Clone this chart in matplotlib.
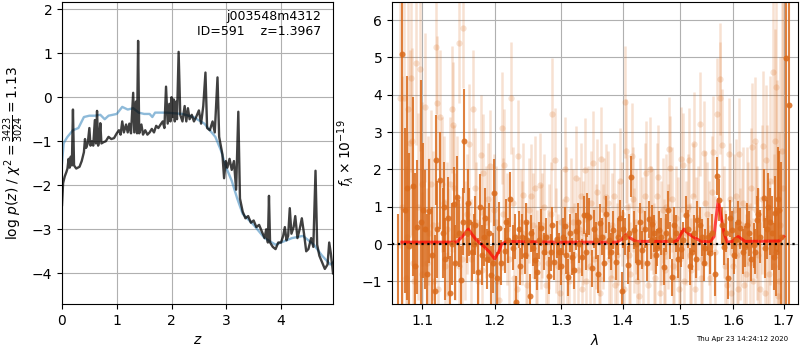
import numpy as np
import matplotlib
matplotlib.use("Agg")
from matplotlib import pyplot as plt
from matplotlib.ticker import NullLocator, FixedLocator, FixedFormatter

# left panel: log p(z)
z_chi = [0.00, 0.02, 0.05, 0.08, 0.10, 0.12, 0.14, 0.16, 0.18, 0.20, 0.22, 0.26, 0.32, 0.36, 0.40, 0.42,
         0.44, 0.47, 0.50, 0.52, 0.55, 0.57, 0.60, 0.62, 0.64, 0.66, 0.68, 0.70, 0.72, 0.76, 0.80, 0.85,
         0.90, 0.95, 1.00, 1.04, 1.07, 1.10, 1.13, 1.17, 1.20, 1.23, 1.26, 1.30, 1.32, 1.35, 1.37, 1.39,
         1.41, 1.45, 1.48, 1.52, 1.56, 1.60, 1.64, 1.68, 1.72, 1.76, 1.80, 1.84, 1.87, 1.90, 1.93, 1.96,
         1.98, 2.00, 2.02, 2.04, 2.06, 2.08, 2.10, 2.13, 2.16, 2.20, 2.24, 2.27, 2.30, 2.33, 2.37, 2.41,
         2.45, 2.50, 2.54, 2.58, 2.62, 2.65, 2.70, 2.75, 2.79, 2.84, 2.87, 2.90, 2.93, 2.96, 2.99, 3.02,
         3.06, 3.10, 3.14, 3.18, 3.22, 3.25, 3.30, 3.35, 3.40, 3.45, 3.50, 3.55, 3.60, 3.65, 3.70, 3.73,
         3.76, 3.78, 3.80, 3.85, 3.90, 3.95, 4.00, 4.04, 4.07, 4.10, 4.13, 4.16, 4.19, 4.23, 4.26, 4.30,
         4.34, 4.38, 4.42, 4.46, 4.50, 4.55, 4.59, 4.63, 4.66, 4.70, 4.75, 4.80, 4.85, 4.88, 4.91, 4.95]
logp_chi = [-2.45, -1.95, -1.80, -1.70, -1.62, -1.40, -1.60, -1.35, -1.55, -0.28, -1.55, -1.62, -1.58, -1.45, -1.25, -0.95,
            -1.15, -1.05, -0.70, -1.10, -1.00, -1.10, -0.52, -1.05, -0.31, -1.10, -0.95, -0.59, -1.05, -1.02, -1.00, -0.90,
            -0.95, -0.93, -0.82, -0.75, -0.85, -0.55, -0.80, -0.62, -0.80, -0.60, -0.82, 0.10, -0.80, -0.10, -0.82, 1.28,
            -0.82, -0.62, -0.85, -0.75, -0.85, -0.80, -0.72, -0.80, -0.65, -0.70, -0.62, -0.55, -0.70, 0.24, -0.60, -0.15,
            -0.55, 0.00, -0.45, -0.05, -0.55, -0.10, -0.50, 1.03, -0.40, -0.55, -0.20, -0.55, -0.25, -0.50, -0.40, -0.55,
            -0.45, -0.30, -0.60, -0.20, 0.56, -0.70, -0.75, -0.55, -0.80, 0.45, -0.90, -1.10, -1.30, -1.84, -1.45, -1.60,
            -1.40, -1.65, -1.45, -2.10, -0.33, -2.30, -2.60, -2.75, -2.70, -2.85, -2.80, -2.95, -2.90, -3.05, -3.20, -3.00,
            -3.30, -2.24, -3.30, -3.40, -3.45, -3.30, -3.30, -3.15, -2.95, -3.25, -3.15, -2.52, -3.10, -2.95, -2.70, -3.20,
            -3.00, -2.75, -3.10, -3.50, -3.45, -3.20, -3.40, -1.67, -3.35, -3.60, -3.75, -3.90, -3.80, -3.30, -3.55, -4.00]

z_prior = [0.00, 0.03, 0.05, 0.10, 0.20, 0.30, 0.40, 0.50, 0.60, 0.70, 0.78, 0.85, 1.00, 1.10, 1.20, 1.30,
           1.40, 1.50, 1.60, 1.65, 1.70, 1.90, 2.20, 2.40, 2.60, 2.80, 2.90, 3.00, 3.10, 3.20, 3.30, 3.50,
           3.70, 3.90, 4.00, 4.20, 4.40, 4.60, 4.75, 4.90, 4.95]
logp_prior = [-1.50, -1.05, -1.00, -0.90, -0.75, -0.70, -0.45, -0.42, -0.42, -0.40, -0.50, -0.42, -0.38, -0.22, -0.28, -0.25,
              -0.35, -0.38, -0.38, -0.45, -0.35, -0.35, -0.38, -0.45, -0.60, -0.90, -1.20, -1.60, -1.90, -2.30, -2.65, -2.90,
              -3.20, -3.35, -3.30, -3.20, -3.15, -3.35, -3.60, -3.80, -3.75]

# right panel: spectrum (flux x 1e-19), dark = first grism PA, light = second
wave_a = [1.0678, 1.0727, 1.0770, 1.0800, 1.0822, 1.0874, 1.0900, 1.0930, 1.0980, 1.1010, 1.1040, 1.1060, 1.1084,
          1.1125, 1.1164, 1.1187, 1.1200, 1.1232, 1.1270, 1.1290, 1.1308, 1.1340, 1.1376, 1.1400, 1.1422, 1.1445,
          1.1468, 1.1491, 1.1527, 1.1545, 1.1569, 1.1600, 1.1620, 1.1639, 1.1680, 1.1700, 1.1720, 1.1756, 1.1793,
          1.1815, 1.1841, 1.1865, 1.1890, 1.1920, 1.1945, 1.1970, 1.1993, 1.2030, 1.2065, 1.2095, 1.2148, 1.2170,
          1.2190, 1.2221, 1.2270, 1.2295, 1.2319, 1.2353, 1.2375, 1.2400, 1.2443, 1.2460, 1.2480, 1.2518, 1.2533,
          1.2570, 1.2603, 1.2633, 1.2660, 1.2684, 1.2735, 1.2770, 1.2806, 1.2837, 1.2862, 1.2888, 1.2940, 1.2970,
          1.3000, 1.3025, 1.3054, 1.3080, 1.3107, 1.3140, 1.3170, 1.3205, 1.3238, 1.3265, 1.3290, 1.3329, 1.3361,
          1.3390, 1.3414, 1.3452, 1.3495, 1.3530, 1.3560, 1.3595, 1.3630, 1.3660, 1.3697, 1.3730, 1.3768, 1.3800,
          1.3834, 1.3890, 1.3920, 1.3956, 1.3989, 1.4010, 1.4040, 1.4083, 1.4110, 1.4140, 1.4196, 1.4230, 1.4270,
          1.4300, 1.4339, 1.4385, 1.4420, 1.4454, 1.4480, 1.4512, 1.4541, 1.4580, 1.4600, 1.4629, 1.4670, 1.4716,
          1.4750, 1.4793, 1.4820, 1.4852, 1.4890, 1.4935, 1.4970, 1.5013, 1.5060, 1.5103, 1.5140, 1.5176, 1.5215,
          1.5255, 1.5290, 1.5316, 1.5360, 1.5408, 1.5440, 1.5470, 1.5520, 1.5563, 1.5600, 1.5644, 1.5688, 1.5732,
          1.5780, 1.5814, 1.5860, 1.5896, 1.5941, 1.5973, 1.6010, 1.6050, 1.6090, 1.6133, 1.6180, 1.6230, 1.6260,
          1.6295, 1.6350, 1.6393, 1.6420, 1.6459, 1.6490, 1.6520, 1.6591, 1.6620, 1.6657, 1.6690, 1.6724, 1.6760,
          1.6791, 1.6824, 1.6850, 1.6878, 1.6910, 1.6940, 1.7043, 1.7110]
flux_a = [-2.00, 5.09, 0.90, 1.50, -0.05, 1.55, -0.60, 0.45, 0.60, 0.90, 0.39, -0.80, 0.89,
          -0.30, -1.27, 2.25, 0.40, 1.71, 0.30, 1.00, -0.39, 0.70, -1.32, 0.00, 1.07, -0.50,
          1.25, 0.29, -0.95, 0.60, 2.76, 0.30, 1.10, 0.59, -0.20, 0.00, 0.50, -0.75, 0.98,
          -0.30, 0.20, 0.70, -0.40, 0.30, -0.84, -0.50, 1.37, -0.90, 0.43, -0.50, -0.18, 0.60,
          0.10, 1.20, -0.10, 0.20, -1.55, 0.39, -0.60, 0.20, -0.29, 0.60, 0.10, -1.39, 0.29,
          -0.10, -0.43, -0.74, 0.10, 0.44, -0.20, 0.20, -0.85, -0.22, 0.50, -0.47, 0.13, -0.20,
          -0.60, 0.20, 0.48, -0.30, -0.89, 0.30, -0.34, -0.70, 0.34, 0.60, 0.00, -0.36, 0.78,
          -0.20, 0.78, 0.73, -0.65, 0.40, 0.10, -0.80, 0.57, 0.20, -0.52, 0.80, 0.10, -0.20,
          0.38, -0.47, 0.20, 0.69, -1.26, 0.40, 0.20, -0.56, 0.30, 1.80, 0.38, 0.00, -0.47,
          0.60, -0.16, 0.39, -0.50, 0.66, 0.10, 0.54, 0.29, -0.30, -0.10, 0.38, 0.20, -0.61,
          0.30, 0.91, 0.10, -0.89, 0.50, 0.29, -0.40, -0.12, 0.10, 0.79, 0.40, -0.60, -0.20,
          0.29, -0.40, 0.64, 0.50, 0.18, -0.50, -0.10, 0.20, -0.25, 0.30, -0.80, 1.82, 1.18,
          0.50, -0.07, 0.30, -0.92, 0.69, 0.38, -0.30, 0.10, 0.60, 0.42, -0.20, -0.07, 0.50,
          0.29, -0.40, -0.03, -0.20, 0.64, 0.80, 0.20, 1.22, -0.10, 0.39, 1.00, 0.60, 0.30,
          -0.34, 0.82, -0.20, 1.20, 0.90, 0.20, 4.97, 3.72]
err_a = [2.8, 8.0, 2.2, 3.0, 2.5, 2.4, 2.5, 1.8, 3.8, 1.8, 1.6, 1.6, 1.4,
         1.3, 1.5, 1.2, 1.3, 1.3, 1.2, 1.2, 1.1, 1.1, 1.0, 1.1, 1.0, 1.0,
         1.1, 0.9, 0.9, 0.9, 1.4, 0.8, 0.9, 0.9, 0.8, 0.8, 0.8, 0.9, 0.9,
         0.8, 0.8, 0.8, 0.8, 0.8, 0.8, 0.8, 0.9, 0.7, 0.7, 0.6, 0.6, 0.6,
         0.6, 0.74, 0.6, 0.6, 0.7, 0.5, 0.5, 0.6, 0.5, 0.5, 0.5, 0.6, 0.5,
         0.5, 0.5, 0.5, 0.5, 0.5, 0.5, 0.5, 0.5, 0.5, 0.5, 0.5, 0.5, 0.5,
         0.5, 0.5, 0.5, 0.5, 0.5, 0.5, 0.5, 0.5, 0.5, 0.5, 0.5, 0.5, 0.5,
         0.5, 0.6, 0.5, 0.5, 0.5, 0.5, 0.5, 0.5, 0.5, 0.5, 0.5, 0.5, 0.5,
         0.5, 0.5, 0.5, 0.5, 0.5, 0.5, 0.5, 0.5, 0.5, 0.55, 0.5, 0.5, 0.5,
         0.5, 0.5, 0.5, 0.5, 0.5, 0.5, 0.5, 0.5, 0.5, 0.5, 0.5, 0.5, 0.5,
         0.5, 0.5, 0.5, 0.5, 0.5, 0.5, 0.5, 0.5, 0.5, 0.5, 0.5, 0.5, 0.5,
         0.5, 0.5, 0.5, 0.5, 0.5, 0.5, 0.5, 0.5, 0.55, 0.5, 0.6, 0.5, 0.55,
         0.5, 0.5, 0.5, 0.55, 0.5, 0.5, 0.5, 0.5, 0.55, 0.55, 0.6, 0.55, 0.6,
         0.6, 0.6, 0.6, 0.6, 0.65, 0.7, 0.7, 0.8, 0.8, 0.8, 0.9, 0.9, 1.0,
         0.9, 1.0, 1.2, 1.4, 1.6, 2.0, 10.0, 10.0]

wave_b = [1.0700, 1.0735, 1.0761, 1.0785, 1.0800, 1.0804, 1.0830, 1.0852, 1.0865, 1.0880, 1.0890, 1.0917, 1.0945,
          1.0970, 1.0990, 1.1000, 1.1036, 1.1060, 1.1070, 1.1090, 1.1120, 1.1140, 1.1150, 1.1182, 1.1200, 1.1210,
          1.1236, 1.1265, 1.1285, 1.1300, 1.1330, 1.1350, 1.1365, 1.1395, 1.1408, 1.1420, 1.1440, 1.1470, 1.1490,
          1.1500, 1.1530, 1.1555, 1.1580, 1.1600, 1.1639, 1.1660, 1.1695, 1.1715, 1.1730, 1.1765, 1.1798, 1.1820,
          1.1836, 1.1880, 1.1900, 1.1931, 1.1970, 1.1990, 1.2020, 1.2040, 1.2060, 1.2100, 1.2120, 1.2133, 1.2180,
          1.2210, 1.2245, 1.2270, 1.2290, 1.2320, 1.2344, 1.2380, 1.2400, 1.2418, 1.2460, 1.2480, 1.2500, 1.2538,
          1.2560, 1.2593, 1.2610, 1.2630, 1.2669, 1.2690, 1.2710, 1.2740, 1.2760, 1.2790, 1.2810, 1.2840, 1.2863,
          1.2899, 1.2920, 1.2950, 1.2980, 1.3000, 1.3030, 1.3054, 1.3080, 1.3100, 1.3130, 1.3150, 1.3180, 1.3200,
          1.3239, 1.3260, 1.3290, 1.3310, 1.3330, 1.3350, 1.3372, 1.3400, 1.3420, 1.3460, 1.3480, 1.3506, 1.3530,
          1.3560, 1.3580, 1.3600, 1.3620, 1.3642, 1.3670, 1.3690, 1.3724, 1.3750, 1.3780, 1.3810, 1.3830, 1.3860,
          1.3880, 1.3910, 1.3930, 1.3960, 1.3990, 1.4020, 1.4045, 1.4056, 1.4080, 1.4100, 1.4130, 1.4152, 1.4180,
          1.4200, 1.4230, 1.4250, 1.4280, 1.4300, 1.4330, 1.4350, 1.4380, 1.4403, 1.4430, 1.4461, 1.4490, 1.4520,
          1.4540, 1.4560, 1.4590, 1.4606, 1.4640, 1.4660, 1.4690, 1.4710, 1.4740, 1.4760, 1.4790, 1.4813, 1.4825,
          1.4850, 1.4880, 1.4900, 1.4930, 1.4960, 1.4980, 1.5000, 1.5027, 1.5057, 1.5080, 1.5110, 1.5140, 1.5166,
          1.5190, 1.5210, 1.5230, 1.5252, 1.5280, 1.5300, 1.5330, 1.5362, 1.5380, 1.5400, 1.5436, 1.5460, 1.5500,
          1.5530, 1.5560, 1.5590, 1.5610, 1.5650, 1.5685, 1.5735, 1.5750, 1.5786, 1.5810, 1.5840, 1.5870, 1.5912,
          1.5940, 1.5960, 1.5990, 1.6010, 1.6040, 1.6060, 1.6080, 1.6104, 1.6130, 1.6160, 1.6190, 1.6210, 1.6240,
          1.6260, 1.6290, 1.6320, 1.6340, 1.6365, 1.6390, 1.6411, 1.6440, 1.6460, 1.6490, 1.6520, 1.6550, 1.6576,
          1.6610, 1.6642, 1.6670, 1.6700, 1.6730, 1.6775, 1.6800, 1.6828, 1.6841, 1.6860, 1.6880, 1.6910, 1.6930,
          1.6960, 1.6980]
flux_b = [3.90, 1.00, 3.90, -0.90, 0.20, 3.63, 2.70, 4.44, 2.75, -0.50, -1.00, 4.86, 1.00,
          4.69, -0.80, 1.60, 3.66, -0.50, 0.90, 0.30, 1.60, 0.50, -1.00, 5.27, 3.77, -1.20,
          3.41, 1.60, 1.10, -0.60, 0.40, -0.30, 1.60, 3.61, 3.18, 1.50, 0.20, 1.20, -0.60,
          5.38, -0.40, 5.78, 0.10, 0.80, 2.68, -0.40, 3.61, 1.50, 0.60, -1.00, 2.38, -0.70,
          1.89, 0.60, 1.20, 2.08, -0.20, 0.90, 0.60, -1.00, -1.50, 3.10, 0.80, 2.12, 0.40,
          -0.40, 3.92, 1.10, -0.90, -1.20, 2.36, 0.60, 0.30, 1.31, -0.30, -1.10, 0.90, 1.29,
          0.50, 1.49, -0.90, -0.50, 1.58, 0.20, 0.50, 1.00, -1.10, -0.50, 0.20, 0.80, 3.48,
          2.25, 0.10, -0.60, -1.30, 0.60, -0.20, 2.00, 1.20, -0.80, -1.00, 0.90, 0.60, -0.30,
          1.76, -0.70, 0.40, 1.30, -1.20, 0.30, 1.98, -1.00, 0.70, -0.60, 1.10, 2.16, -0.40,
          0.20, 1.40, -0.90, -1.30, 2.27, 0.20, 0.90, 1.27, 1.10, -0.40, -0.90, 0.50, 1.30,
          -1.10, -0.30, 0.30, 1.70, 0.80, -1.20, 3.80, 2.49, 1.00, -0.30, -0.80, 2.37, 1.20,
          0.10, 0.60, -1.00, -1.40, 0.90, 0.40, -0.50, 1.30, 1.89, -1.10, 2.00, 0.70, 0.60,
          -0.30, -0.90, 1.30, 1.80, -1.30, 0.30, 0.90, -0.20, -0.70, 1.00, 0.20, 2.54, 2.03,
          1.20, -0.60, -0.90, 0.70, 0.40, -1.20, -0.40, 2.27, 2.12, -1.00, 0.30, 1.00, 2.25,
          -0.30, -0.70, 1.30, 2.67, -1.20, 0.40, 0.70, 3.21, -0.90, -0.40, 2.43, 1.10, 0.80,
          0.30, -0.90, 1.40, 2.47, -0.20, 3.48, 4.41, 3.90, 2.65, 0.60, -0.60, -1.10, 2.41,
          1.20, -1.30, -0.60, 0.90, 1.30, -0.30, -1.20, 2.41, 0.00, 0.50, 1.10, -1.10, -0.80,
          1.00, 0.60, -0.50, 1.50, 2.61, -1.00, 2.77, 0.90, 0.30, -0.30, -1.20, 1.20, 2.63,
          -1.30, 2.25, 0.70, -0.80, 1.70, 4.62, -0.60, 2.77, 4.20, 0.90, -1.40, -1.00, 0.50,
          2.50, 1.50]
err_b = [4.0, 3.5, 3.0, 3.0, 2.8, 3.0, 2.5, 2.5, 2.5, 2.5, 2.5, 2.2, 2.5,
         2.2, 2.2, 2.2, 2.0, 2.0, 2.0, 2.0, 2.0, 2.0, 2.0, 1.8, 1.8, 1.8,
         1.8, 1.8, 1.8, 1.8, 1.8, 1.8, 1.8, 1.7, 1.7, 1.7, 1.7, 1.7, 1.7,
         1.6, 1.7, 1.6, 1.6, 1.6, 1.6, 1.6, 1.6, 1.6, 1.6, 1.6, 1.6, 1.6,
         1.6, 1.5, 1.5, 1.5, 1.5, 1.5, 1.5, 1.5, 1.5, 1.5, 1.5, 1.5, 1.5,
         1.5, 1.5, 1.5, 1.5, 1.5, 1.5, 1.4, 1.4, 1.4, 1.4, 1.4, 1.4, 1.4,
         1.4, 1.4, 1.4, 1.4, 1.4, 1.4, 1.4, 1.4, 1.4, 1.4, 1.4, 1.4, 1.5,
         1.4, 1.4, 1.4, 1.4, 1.4, 1.4, 1.4, 1.4, 1.4, 1.4, 1.4, 1.4, 1.4,
         1.4, 1.4, 1.4, 1.4, 1.4, 1.4, 1.4, 1.4, 1.4, 1.4, 1.4, 1.4, 1.4,
         1.4, 1.4, 1.4, 1.4, 1.4, 1.4, 1.4, 1.4, 1.4, 1.4, 1.4, 1.4, 1.4,
         1.4, 1.4, 1.4, 1.4, 1.4, 1.4, 1.5, 1.4, 1.4, 1.4, 1.4, 1.4, 1.4,
         1.4, 1.4, 1.4, 1.4, 1.4, 1.4, 1.4, 1.4, 1.4, 1.4, 1.4, 1.4, 1.4,
         1.4, 1.4, 1.4, 1.4, 1.4, 1.4, 1.4, 1.4, 1.4, 1.4, 1.4, 1.4, 1.4,
         1.4, 1.4, 1.4, 1.4, 1.4, 1.4, 1.4, 1.4, 1.4, 1.4, 1.4, 1.4, 1.4,
         1.4, 1.4, 1.4, 1.4, 1.4, 1.4, 1.4, 1.4, 1.4, 1.4, 1.4, 1.4, 1.4,
         1.4, 1.4, 1.5, 1.5, 1.5, 1.5, 1.5, 1.5, 1.5, 1.5, 1.5, 1.5, 1.5,
         1.5, 1.5, 1.5, 1.5, 1.5, 1.5, 1.5, 1.5, 1.5, 1.5, 1.5, 1.5, 1.6,
         1.6, 1.6, 1.6, 1.6, 1.7, 1.7, 1.7, 1.8, 1.8, 1.8, 1.8, 2.0, 2.0,
         2.0, 2.0, 2.5, 2.5, 2.8, 3.0, 3.0, 3.0, 3.0, 3.5, 3.5, 4.0, 4.5,
         5.0, 6.0]

wave_model = [1.0731, 1.1000, 1.1464, 1.1540, 1.1624, 1.1680, 1.1742, 1.1837, 1.1920, 1.2000, 1.2060, 1.2100,
              1.2175, 1.3000, 1.3900, 1.3980, 1.4060, 1.4140, 1.4228, 1.4900, 1.4956, 1.5010, 1.5077, 1.5150,
              1.5290, 1.5400, 1.5560, 1.5630, 1.5660, 1.5712, 1.5755, 1.5818, 1.5880, 1.5980, 1.6093, 1.6225,
              1.6900, 1.7000]
flux_model = [0.05, 0.05, 0.05, 0.20, 0.40, 0.25, 0.10, -0.05, -0.20, -0.40, -0.20, 0.00,
              0.07, 0.05, 0.05, 0.12, 0.25, 0.15, 0.07, 0.07, 0.10, 0.25, 0.40, 0.28,
              0.15, 0.07, 0.07, 0.20, 0.60, 1.20, 0.80, 0.30, 0.05, 0.07, 0.20, 0.07,
              0.08, 0.20]

dark = '#da6b1c'

fig = plt.figure(figsize=(8, 3.5), dpi=100)
gs = fig.add_gridspec(1, 2, width_ratios=[271, 406], left=0.0775, right=0.9975,
                      bottom=0.131, top=0.994, wspace=0.174)
ax1 = fig.add_subplot(gs[0])
ax2 = fig.add_subplot(gs[1])

# p(z)
ax1.plot(z_prior, logp_prior, color='tab:blue', alpha=0.5, lw=1.7)
ax1.plot(z_chi, logp_chi, color='k', alpha=0.75, lw=1.7)
ax1.set_xlim(0, 4.95)
ax1.set_ylim(-4.7, 2.16)
ax1.set_xticks([0, 1, 2, 3, 4])
ax1.set_yticks([-4, -3, -2, -1, 0, 1, 2])
ax1.grid()
ax1.set_xlabel(r'$z$')
ax1.set_ylabel(r'log $p(z)$ / $\chi^2=\frac{3423}{3024}=1.13$')
ax1.text(0.955, 0.975, 'j003548m4312\nID=591    z=1.3967', transform=ax1.transAxes,
         ha='right', va='top', fontsize=9)

# spectrum
ax2.errorbar(wave_b, flux_b, yerr=err_b, fmt='o', color=dark, alpha=0.2, ms=4.5,
             elinewidth=1.8, capsize=0, mew=0)
ax2.errorbar(wave_a, flux_a, yerr=err_a, fmt='o', color=dark, alpha=0.85, ms=4.3,
             elinewidth=1.5, capsize=0, mew=0)
ax2.plot(wave_model, flux_model, color='r', alpha=0.7, lw=2.2)
ax2.axhline(0, color='k', ls=':', lw=1.6)
ax2.set_xscale('log')
ax2.set_xlim(1.0603, 1.7294)
ax2.set_ylim(-1.61, 6.48)
xt = [1.1, 1.2, 1.3, 1.4, 1.5, 1.6, 1.7]
ax2.xaxis.set_major_locator(FixedLocator(xt))
ax2.xaxis.set_major_formatter(FixedFormatter(['%.1f' % v for v in xt]))
ax2.xaxis.set_minor_locator(NullLocator())
ax2.set_yticks([-1, 0, 1, 2, 3, 4, 5, 6])
ax2.grid()
ax2.set_xlabel(r'$\lambda$')
ax2.set_ylabel(r'$f_\lambda\times10^{-19}$')

fig.text(0.985, 0.031, 'Thu Apr 23 14:24:12 2020', ha='right', va='center', fontsize=5)

fig.savefig('out.png', dpi=100)
